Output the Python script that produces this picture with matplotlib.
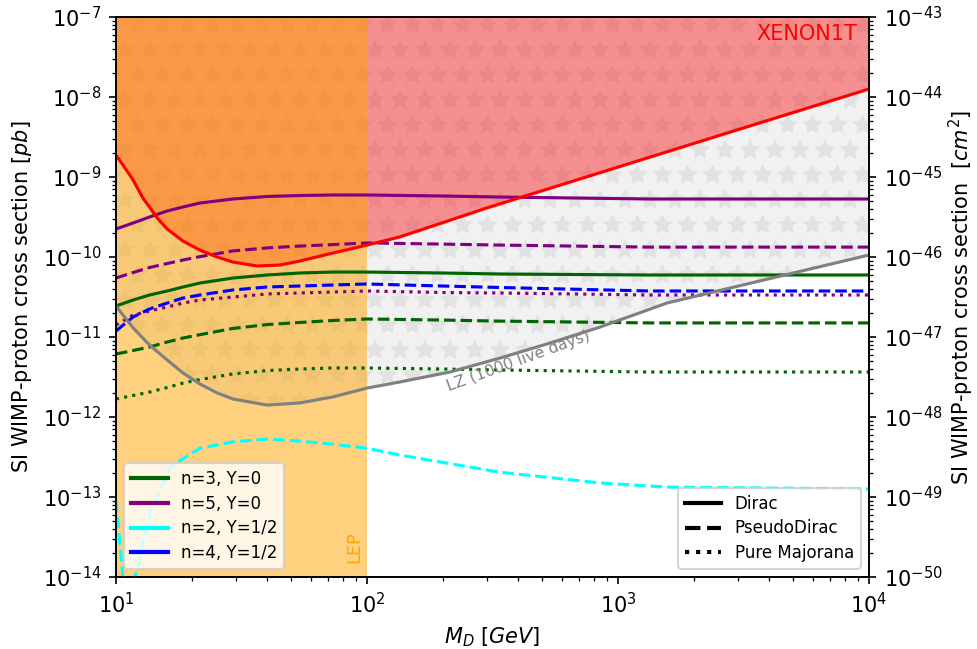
import numpy as np
import matplotlib
matplotlib.use("Agg")
import matplotlib.pyplot as plt
from matplotlib.lines import Line2D

# ---------- Model curves (SI cross section in pb vs mass in GeV) ----------
mass = [10, 11.7, 13.6, 16, 18.5, 21.6, 29.2, 40, 54, 73, 100, 200, 340,
        1340, 10000]

n3_dirac = [2.44e-11, 2.9e-11, 3.35e-11, 3.76e-11, 4.22e-11, 4.73e-11,
            5.46e-11, 5.96e-11, 6.31e-11, 6.49e-11, 6.49e-11, 6.31e-11,
            6.13e-11, 5.96e-11, 5.96e-11]
n3_pseudo = [6.13e-12, 6.78e-12, 7.5e-12, 8.66e-12, 9.72e-12, 1.07e-11,
             1.28e-11, 1.43e-11, 1.52e-11, 1.61e-11, 1.68e-11, 1.63e-11,
             1.58e-11, 1.5e-11, 1.5e-11]
n3_major = [1.68e-12, 1.86e-12, 2.05e-12, 2.34e-12, 2.66e-12, 2.94e-12,
            3.45e-12, 3.81e-12, 3.98e-12, 4.1e-12, 4.1e-12, 3.98e-12,
            3.87e-12, 3.65e-12, 3.65e-12]

n5_dirac = [2.24e-10, 2.66e-10, 3.16e-10, 3.76e-10, 4.22e-10, 4.73e-10,
            5.31e-10, 5.71e-10, 5.87e-10, 5.96e-10, 5.96e-10, 5.79e-10,
            5.62e-10, 5.31e-10, 5.31e-10]
n5_pseudo = [5.46e-11, 6.4e-11, 7.39e-11, 8.29e-11, 9.17e-11, 1.01e-10,
             1.19e-10, 1.3e-10, 1.37e-10, 1.43e-10, 1.5e-10, 1.45e-10,
             1.41e-10, 1.33e-10, 1.33e-10]
n5_major = [1.41e-11, 1.88e-11, 2.11e-11, 2.37e-11, 2.66e-11, 2.9e-11,
            3.16e-11, 3.45e-11, 3.55e-11, 3.65e-11, 3.76e-11, 3.6e-11,
            3.55e-11, 3.35e-11, 3.35e-11]

n4_pseudo = [1.19e-11, 1.78e-11, 2.24e-11, 2.66e-11, 3.07e-11, 3.35e-11,
             3.87e-11, 4.22e-11, 4.34e-11, 4.47e-11, 4.6e-11, 4.34e-11,
             4.16e-11, 3.76e-11, 3.76e-11]

# n=2, Y=1/2 pseudo-Dirac changes sign just above 11 GeV
mass_n2 = [10, 10.66, 11.2, 11.9, 13.7, 16.4, 21.6, 29.2, 40, 54, 73,
           100, 135, 339, 847, 1567, 10000]
n2_pseudo = [9.1e-14, 1.0e-14, 1e-16, 1.0e-14, 6.3e-14, 2.37e-13, 4.07e-13,
             4.9e-13, 5.3e-13, 5.0e-13, 4.57e-13, 4.07e-13, 3.35e-13,
             2.04e-13, 1.5e-13, 1.33e-13, 1.26e-13]

# ---------- Experimental limits ----------
xenon_mass = [10, 10.86, 11.7, 12.8, 13.6, 14.6, 16, 18.5, 21.6, 25.3,
              29.2, 36.5, 45, 54, 73, 100, 135, 300, 1000, 3000, 10000]
xenon_limit = [1.88e-9, 1.3e-9, 9.17e-10, 5.46e-10, 4.22e-10, 3.07e-10,
               2.24e-10, 1.58e-10, 1.22e-10, 1.0e-10, 8.66e-11, 7.72e-11,
               7.94e-11, 8.91e-11, 1.12e-10, 1.41e-10, 1.78e-10, 4.1e-10,
               1.33e-9, 3.9e-9, 1.26e-8]

lz_mass = [10, 11.7, 13.6, 16, 18.5, 21.6, 25.3, 29.2, 40, 54, 73, 100,
           135, 214, 339, 536, 847, 1567, 10000]
lz_limit = [2.44e-11, 1.3e-11, 7.94e-12, 5.16e-12, 3.55e-12, 2.59e-12,
            2.0e-12, 1.68e-12, 1.41e-12, 1.5e-12, 1.78e-12, 2.3e-12,
            2.74e-12, 3.65e-12, 5.46e-12, 8.41e-12, 1.33e-11, 2.66e-11,
            1.06e-10]

lep_bound = 100.0
y_lo, y_hi = 1e-14, 1e-7
pb_to_cm2 = 1e-36

fig, ax = plt.subplots(figsize=(977 / 150, 649 / 150), dpi=150)
fig.subplots_adjust(left=0.1187, right=0.8895, bottom=0.1109, top=0.9738)

# projected LZ reach, starred
ax.fill_between(lz_mass, lz_limit, y_hi, facecolor="#f1f1f1",
                edgecolor="#e2e2e2", hatch="*", linewidth=0, zorder=0)

# XENON1T excluded region
ax.fill_between(xenon_mass, xenon_limit, y_hi, color="red", alpha=0.4,
                linewidth=0, zorder=1)

# LEP bound
ax.axvspan(10, lep_bound, color="orange", alpha=0.5, linewidth=0, zorder=2)

ax.plot(xenon_mass, xenon_limit, color="red", zorder=4)
ax.plot(lz_mass, lz_limit, color="gray", zorder=4)

ax.plot(mass, n3_dirac, color="darkgreen", ls="-", zorder=3)
ax.plot(mass, n3_pseudo, color="darkgreen", ls="--", zorder=3)
ax.plot(mass, n3_major, color="darkgreen", ls=":", zorder=3)
ax.plot(mass, n5_dirac, color="purple", ls="-", zorder=3)
ax.plot(mass, n5_pseudo, color="purple", ls="--", zorder=3)
ax.plot(mass, n5_major, color="purple", ls=":", zorder=3)
ax.plot(mass_n2, n2_pseudo, color="cyan", ls="--", zorder=3)
ax.plot(mass, n4_pseudo, color="blue", ls="--", zorder=3)

ax.set_xscale("log")
ax.set_yscale("log")
ax.set_xlim(10, 1e4)
ax.set_ylim(y_lo, y_hi)
ax.set_xlabel("$M_D$ [$GeV$]")
ax.set_ylabel("SI WIMP-proton cross section [$pb$]")

ax.text(5660, 6.2e-8, "XENON1T", color="red", ha="center", va="center")
ax.text(88.7, 2.37e-14, "LEP", color="orange", fontsize=8.5, rotation=90,
        ha="center", va="center")
ax.text(400, 5.0e-12, "LZ (1000 live days)", color="gray", fontsize=7.5,
        rotation=20, ha="center", va="center")

# ---------- Legends ----------
model_handles = [
    Line2D([], [], color="darkgreen", lw=2, label="n=3, Y=0"),
    Line2D([], [], color="purple", lw=2, label="n=5, Y=0"),
    Line2D([], [], color="cyan", lw=2, label="n=2, Y=1/2"),
    Line2D([], [], color="blue", lw=2, label="n=4, Y=1/2"),
]
style_handles = [
    Line2D([], [], color="black", ls="-", lw=2, label="Dirac"),
    Line2D([], [], color="black", ls="--", lw=2, label="PseudoDirac"),
    Line2D([], [], color="black", ls=":", lw=2, label="Pure Majorana"),
]
leg1 = ax.legend(handles=model_handles, loc="lower left", fontsize=8,
                 handlelength=2.2, labelspacing=0.4)
leg1.set_zorder(10)
ax.add_artist(leg1)
leg2 = ax.legend(handles=style_handles, loc="lower right", fontsize=8,
                 handlelength=2.2, labelspacing=0.4)
leg2.set_zorder(10)

# ---------- Right axis in cm^2 ----------
ax2 = ax.twinx()
ax2.set_yscale("log")
ax2.set_ylim(y_lo * pb_to_cm2, y_hi * pb_to_cm2)
ax2.set_ylabel("SI WIMP-proton cross section  [$cm^2$]", labelpad=2)

fig.savefig("out.png", dpi=150)
